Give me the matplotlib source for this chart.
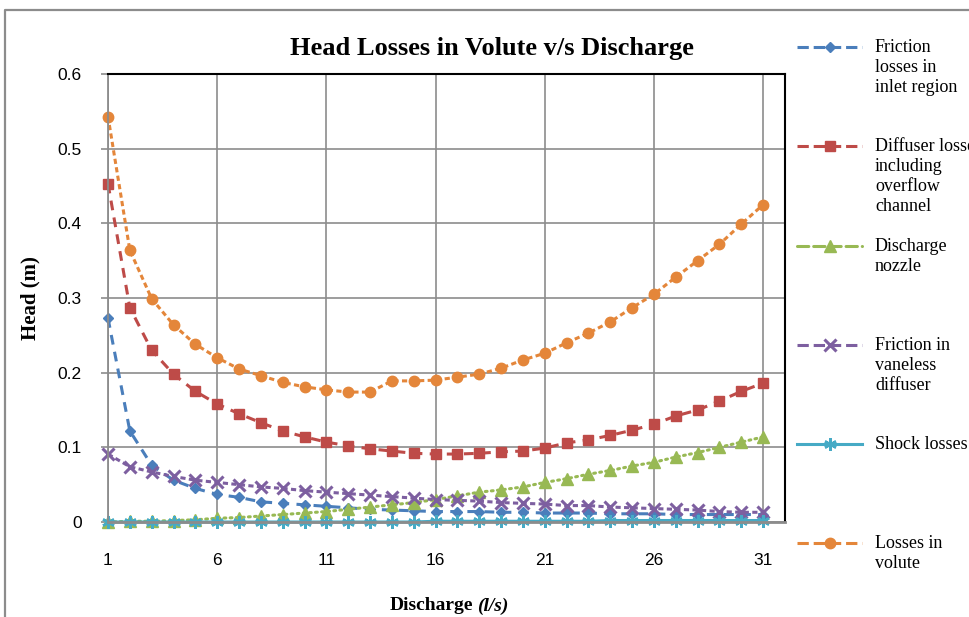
import matplotlib
matplotlib.use("Agg")
import matplotlib.pyplot as plt
from matplotlib.lines import Line2D

# ---------------- data ----------------
discharge = list(range(1, 32))
friction_inlet = [0.273, 0.122, 0.076, 0.056, 0.045, 0.037, 0.033, 0.027, 0.025, 0.023,
                  0.021, 0.019, 0.017, 0.016, 0.015, 0.014, 0.014, 0.014, 0.013, 0.013,
                  0.012, 0.012, 0.012, 0.011, 0.011, 0.011, 0.010, 0.010, 0.010, 0.010, 0.010]
diffuser = [0.453, 0.287, 0.230, 0.198, 0.175, 0.158, 0.145, 0.133, 0.122, 0.114,
            0.107, 0.102, 0.098, 0.095, 0.092, 0.091, 0.091, 0.092, 0.094, 0.095,
            0.099, 0.106, 0.110, 0.116, 0.123, 0.131, 0.142, 0.150, 0.162, 0.175, 0.186]
nozzle = [0.000, 0.001, 0.001, 0.002, 0.003, 0.005, 0.006, 0.008, 0.010, 0.012,
          0.014, 0.017, 0.020, 0.023, 0.026, 0.030, 0.035, 0.040, 0.043, 0.047,
          0.053, 0.058, 0.064, 0.069, 0.075, 0.080, 0.087, 0.093, 0.100, 0.107, 0.114]
vaneless = [0.091, 0.074, 0.067, 0.061, 0.056, 0.053, 0.050, 0.047, 0.045, 0.042,
            0.040, 0.038, 0.036, 0.034, 0.032, 0.030, 0.029, 0.028, 0.026, 0.025,
            0.024, 0.022, 0.022, 0.020, 0.019, 0.018, 0.017, 0.016, 0.014, 0.013, 0.013]
shock = [0.000, 0.000, 0.000, 0.000, 0.000, 0.000, 0.000, 0.000, 0.000, 0.000,
         0.000, 0.000, 0.000, 0.000, 0.000, 0.001, 0.001, 0.001, 0.001, 0.001,
         0.001, 0.001, 0.001, 0.002, 0.002, 0.002, 0.002, 0.002, 0.002, 0.002, 0.002]
volute = [0.543, 0.364, 0.299, 0.264, 0.238, 0.220, 0.205, 0.196, 0.187, 0.181,
          0.177, 0.174, 0.174, 0.189, 0.189, 0.190, 0.194, 0.198, 0.206, 0.217,
          0.226, 0.240, 0.253, 0.268, 0.287, 0.305, 0.328, 0.350, 0.372, 0.399, 0.425]

labels = ["Friction\nlosses in\ninlet region",
          "Diffuser losses\nincluding\noverflow\nchannel",
          "Discharge\nnozzle",
          "Friction in\nvaneless\ndiffuser",
          "Shock losses",
          "Losses in\nvolute"]
x_ticks = [1, 6, 11, 16, 21, 26, 31]
y_ticks = [0, 0.1, 0.2, 0.3, 0.4, 0.5, 0.6]
y_ticklabels = ["0", "0.1", "0.2", "0.3", "0.4", "0.5", "0.6"]

# ---------------- styles ----------------
series = [friction_inlet, diffuser, nozzle, vaneless, shock, volute]
colors = ["#4A7EBB", "#BE4B48", "#98B954", "#7D5FA0", "#46AAC5", "#E4863A"]
markers = ["D", "s", "^", "x", (6, 2, 0), "o"]
msizes = [5.5, 7, 8, 8, 9, 7.5]
mews = [1, 1, 1, 2.2, 1.8, 1]
dashes = [(3.2, 2.4), (3.2, 2.4), (0.6, 1.4), (1.7, 1.1), None, (1.7, 1.1)]
LW = 2.2

W, H = 970, 617
fig = plt.figure(figsize=(W / 100, H / 100), dpi=100)
ax = fig.add_axes([108 / W, 1 - 522 / H, (785 - 108) / W, (522 - 74) / H])

lines = []
for vals, c, m, ms, mew, d in zip(series, colors, markers, msizes, mews, dashes):
    kw = dict(color=c, lw=LW, marker=m, ms=ms, mew=mew, mfc=c, mec=c, clip_on=False)
    if d is None:
        ln, = ax.plot(discharge, vals, linestyle="-", **kw)
    else:
        ln, = ax.plot(discharge, vals, linestyle=(0, d), **kw)
        if d[0] < 1:
            ln.set_dash_capstyle("round")
    lines.append(ln)

ax.set_xlim(1, 32)
ax.set_ylim(0, 0.6)
ax.set_xticks(x_ticks)
ax.set_xticklabels([str(t) for t in x_ticks])
ax.set_yticks(y_ticks)
ax.set_yticklabels(y_ticklabels)
grid_c = "#8C8C8C"
ax.grid(True, color=grid_c, lw=1.2, zorder=0)
ax.set_axisbelow(True)
for lab in ax.get_xticklabels() + ax.get_yticklabels():
    lab.set_fontfamily(["Liberation Sans", "DejaVu Sans"])
    lab.set_fontsize(12.5)
ax.tick_params(axis="y", length=5, width=1.2, color=grid_c, pad=14)
ax.tick_params(axis="x", length=0, pad=22)
ax.spines["left"].set_color(grid_c)
ax.spines["left"].set_linewidth(1.3)
ax.spines["bottom"].set_color(grid_c)
ax.spines["bottom"].set_linewidth(2.0)
ax.spines["top"].set_color("black")
ax.spines["top"].set_linewidth(1.5)
ax.spines["right"].set_color("black")
ax.spines["right"].set_linewidth(1.5)

serif = ["Liberation Serif", "DejaVu Serif"]
fig.text(492 / W, 1 - 48 / H, "Head Losses in Volute v/s Discharge",
         ha="center", va="center", fontsize=19, fontweight="bold", family=serif)
fig.text(30 / W, 1 - 298 / H, "Head (m)", rotation=90, ha="center", va="center",
         fontsize=15, fontweight="bold", family=serif)
fig.text(473 / W, 1 - 606 / H, "Discharge", ha="right", va="center",
         fontsize=14, fontweight="bold", family=serif)
fig.text(477 / W, 1 - 606 / H, "(l/s)", ha="left", va="center",
         fontsize=14, fontweight="bold", fontstyle="italic", family=serif)

# outer chart frame
fig.add_artist(Line2D([5 / W, 5 / W, 1.0], [0.0, 1 - 10 / H, 1 - 10 / H],
                      transform=fig.transFigure, color="#8C8C8C", lw=1.6))

# manual legend
entry_y = [47, 146, 246, 345, 444, 543]
for ln, lab, ey in zip(lines, labels, entry_y):
    yf = 1 - ey / H
    h = Line2D([797 / W, 862 / W], [yf, yf], transform=fig.transFigure,
               color=ln.get_color(), lw=LW, linestyle=ln.get_linestyle(),
               dash_capstyle=ln.get_dash_capstyle())
    fig.add_artist(h)
    mk = Line2D([830 / W], [yf], transform=fig.transFigure, linestyle="none",
                marker=ln.get_marker(), ms=ln.get_markersize(), mew=ln.get_markeredgewidth(),
                mfc=ln.get_color(), mec=ln.get_color())
    fig.add_artist(mk)
    fig.text(875 / W, yf + 8 / H, lab, ha="left", va="top", fontsize=13,
             family=serif, linespacing=1.22)

fig.savefig("out.png", dpi=100)
